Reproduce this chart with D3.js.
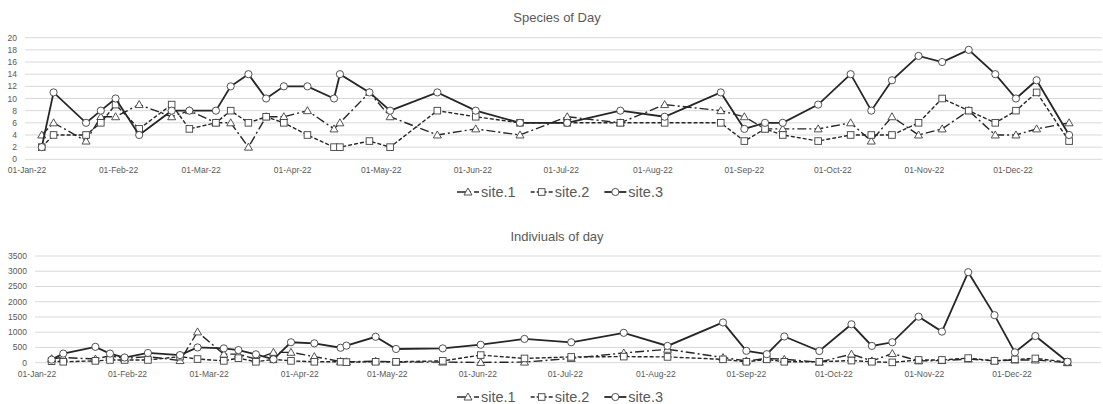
<html>
<head>
<meta charset="utf-8">
<script src="https://cdn.jsdelivr.net/npm/d3@7"></script>
<style>
  body { margin: 0; background: #fff; }
  text { font-family: "Liberation Sans", Arial, sans-serif; }
</style>
</head>
<body>
<svg id="chart" width="1103" height="404"></svg>
<script>
// sampling days (same for both panels)
var dates = ["2022-01-06","2022-01-10","2022-01-21","2022-01-26","2022-01-31","2022-02-08","2022-02-19","2022-02-25",
  "2022-03-06","2022-03-11","2022-03-17","2022-03-23","2022-03-29","2022-04-06","2022-04-15","2022-04-17","2022-04-27",
  "2022-05-04","2022-05-20","2022-06-02","2022-06-17","2022-07-03","2022-07-21","2022-08-05","2022-08-24","2022-09-01",
  "2022-09-08","2022-09-14","2022-09-26","2022-10-07","2022-10-14","2022-10-21","2022-10-30","2022-11-07","2022-11-16",
  "2022-11-25","2022-12-02","2022-12-09","2022-12-20"];

var seriesNames = ["site.1", "site.2", "site.3"];

// species per day
var species1 = [4,6,3,7,7,9,7,8,6,6,2,7,7,8,5,6,11,7,4,5,4,7,6,9,8,7,5,5,5,6,3,7,4,5,8,4,4,5,6];
var species2 = [2,4,4,6,9,5,9,5,6,8,6,7,6,4,2,2,3,2,8,7,6,6,6,6,6,3,5,4,3,4,4,4,6,10,8,6,8,11,3];
var species3 = [2,11,6,8,10,4,8,8,8,12,14,10,12,12,10,14,11,8,11,8,6,6,8,7,11,5,6,6,9,14,8,13,17,16,18,14,10,13,4];

// individuals per day
var indiv1 = [130,170,120,230,140,200,70,1010,280,280,120,340,340,200,40,30,50,20,20,10,20,140,320,440,170,60,140,110,20,280,60,300,60,70,120,60,90,90,0];
var indiv2 = [50,30,60,90,90,90,200,120,60,150,30,110,60,30,30,20,30,30,60,250,140,190,200,190,110,30,110,30,30,70,30,10,90,90,150,60,110,140,20];
var indiv3 = [100,300,520,300,170,320,250,500,470,415,275,110,670,635,490,560,850,450,470,590,780,670,980,550,1320,390,280,860,385,1260,550,670,1510,1020,2970,1560,340,875,30];

var speciesTicks = d3.range(0, 21, 2);
var indivTicks = d3.range(0, 3501, 500);

var parse = d3.timeParse("%Y-%m-%d");
var fmt = d3.timeFormat("%d-%b-%y");
var days = dates.map(parse);

var svg = d3.select("#chart");

var styles = [
  { dash: "9,3,2,3", marker: "triangle", width: 1.4 },
  { dash: "4,2", marker: "square", width: 1.4 },
  { dash: null, marker: "circle", width: 1.8 }
];

function drawMarker(g, type, x, y) {
  var m;
  if (type == "circle") {
    m = g.append("circle").attr("cx", x).attr("cy", y).attr("r", 3.6);
  } else if (type == "square") {
    m = g.append("rect").attr("x", x - 3.3).attr("y", y - 3.3).attr("width", 6.6).attr("height", 6.6);
  } else {
    m = g.append("path").attr("d", "M" + x + "," + (y - 4) + "L" + (x + 4) + "," + (y + 3) + "L" + (x - 4) + "," + (y + 3) + "Z");
  }
  m.style("fill", "#fff").style("stroke", "#404040").style("stroke-width", 0.9);
}

function panel(opt) {
  var x = d3.scaleTime()
    .domain([parse("2022-01-01"), parse("2022-12-01")])
    .range([opt.jan, opt.dec]);
  var y = d3.scaleLinear().domain([0, opt.max]).range([opt.bottom, opt.top]);
  var g = svg.append("g");

  // gridlines
  g.selectAll(".grid").data(opt.ticks).enter().append("line")
    .attr("x1", opt.left).attr("x2", opt.right)
    .attr("y1", function(d) { return y(d); }).attr("y2", function(d) { return y(d); })
    .style("stroke", "#d9d9d9").style("stroke-width", 1);

  // y labels
  g.selectAll(".ylab").data(opt.ticks).enter().append("text")
    .attr("x", opt.left - 8).attr("y", function(d) { return y(d) + 3; })
    .attr("text-anchor", "end")
    .style("font-size", "8.5px").style("fill", "#595959")
    .text(function(d) { return d; });

  // x labels, first of each month
  var months = d3.timeMonth.range(parse("2022-01-01"), parse("2023-01-01"));
  g.selectAll(".xlab").data(months).enter().append("text")
    .attr("x", function(d) { return x(d); }).attr("y", opt.bottom + 14)
    .attr("text-anchor", "middle")
    .style("font-size", "8.5px").style("fill", "#595959")
    .text(function(d) { return fmt(d); });

  // title
  g.append("text").attr("x", 557).attr("y", opt.titleY)
    .attr("text-anchor", "middle")
    .style("font-size", "13px").style("fill", "#595959")
    .text(opt.title);

  var line = d3.line().x(function(d) { return x(d[0]); }).y(function(d) { return y(d[1]); });

  opt.series.forEach(function(vals, i) {
    var pts = days.map(function(d, j) { return [d, vals[j]]; });
    g.append("path").datum(pts).attr("d", line)
      .style("fill", "none").style("stroke", "#262626")
      .style("stroke-width", styles[i].width)
      .style("stroke-dasharray", styles[i].dash);
    pts.forEach(function(p) { drawMarker(g, styles[i].marker, x(p[0]), y(p[1])); });
  });

  // legend
  var lg = svg.append("g");
  var cx = 457;
  seriesNames.forEach(function(name, i) {
    lg.append("line").attr("x1", cx).attr("x2", cx + 22)
      .attr("y1", opt.legendY).attr("y2", opt.legendY)
      .style("stroke", "#262626").style("stroke-width", styles[i].width)
      .style("stroke-dasharray", styles[i].dash);
    drawMarker(lg, styles[i].marker, cx + 11, opt.legendY);
    var t = lg.append("text").attr("x", cx + 24).attr("y", opt.legendY + 5)
      .style("font-size", "14.5px").style("fill", "#595959").text(name);
    cx = cx + 24 + t.node().getComputedTextLength() + 15;
  });
}

panel({
  title: "Species of Day", titleY: 22,
  left: 25, right: 1102, jan: 27, dec: 1013, top: 37.7, bottom: 159.3,
  max: 20, ticks: speciesTicks, legendY: 192,
  series: [species1, species2, species3]
});

panel({
  title: "Indiviuals of day", titleY: 241,
  left: 35, right: 1101, jan: 37, dec: 1012, top: 256, bottom: 362.7,
  max: 3500, ticks: indivTicks, legendY: 397,
  series: [indiv1, indiv2, indiv3]
});
</script>
</body>
</html>
